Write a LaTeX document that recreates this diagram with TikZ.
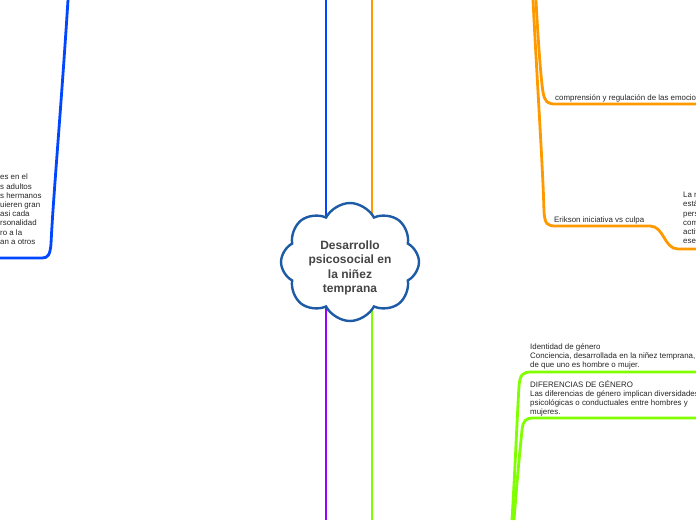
\documentclass[tikz,border=0pt]{standalone}
\usepackage{fontspec}
\setmainfont{Liberation Sans}
\usetikzlibrary{positioning, shapes.symbols}
\definecolor{azul}{HTML}{0047FF}
\definecolor{naranja}{HTML}{FF9900}
\definecolor{morado}{HTML}{9900FF}
\definecolor{verde}{HTML}{80FF00}
\definecolor{nube}{HTML}{1D5BA6}
\definecolor{tinta}{HTML}{444444}

\begin{document}
\begin{tikzpicture}[x=1pt, y=-1pt,
    rama/.style={line width=2.8pt},
    texto/.style={font=\fontsize{7.9}{9.2}\selectfont, align=left, inner sep=0pt, text=black!85},
    centro/.style={cloud, cloud puffs=8, cloud puff arc=125, aspect=1.2,
      shape border uses incircle, shape border rotate=22.5,
      draw=nube, line width=2.4pt,
      fill=white, text=tinta, align=center, inner sep=-6pt,
      minimum width=138pt, minimum height=118pt,
      font=\bfseries\fontsize{12}{14.4}\selectfont}]
  \useasboundingbox (0,0) rectangle (696,520);
  \clip (0,0) rectangle (696,520);

  % ramas principales
  \coordinate (c) at (350,262);
  \coordinate (azulA) at (326,0);
  \coordinate (naranjaA) at (372,0);
  \coordinate (moradoA) at (326,520);
  \coordinate (verdeA) at (372,520);
  \draw[rama, azul] (azulA) -- (azulA |- c);
  \draw[rama, naranja] (naranjaA) -- (naranjaA |- c);
  \draw[rama, morado] (moradoA) -- (moradoA |- c);
  \draw[rama, verde] (verdeA) -- (verdeA |- c);

  \node[centro] (raiz) at (c) {\mbox{}\\[6pt]Desarrollo\\psicosocial en\\la niñez\\temprana};

  % rama azul (izquierda)
  \coordinate (azulB) at (68,0);
  \coordinate (azulC) at (0,258);
  \draw[rama, azul] (azulB) .. controls (61,110) and (53,200) .. (51,244)
    .. controls (50,255) and (48,258) .. (42,258) -- (azulC);
  \node[texto, anchor=north west] (familia) at (0,174)
    {es en el\\s adultos\\s hermanos\\uieren gran\\asi cada\\rsonalidad\\ro a la\\an a otros};

  % ramas naranjas (derecha arriba)
  \coordinate (naranjaB) at (536,0);
  \coordinate (naranjaC) at (696,104);
  \draw[rama, naranja] (naranjaB) .. controls (538,40) and (541,80) .. (543,92)
    .. controls (545,102) and (547,104) .. (556,104) -- (naranjaC);
  \node[texto, anchor=base west] (emociones) at (555,100) {comprensión y regulación de las emocio};

  \coordinate (naranjaD) at (533,0);
  \coordinate (naranjaE) at (696,249);
  \draw[rama, naranja] (naranjaD) .. controls (537,80) and (543,170) .. (544,212)
    .. controls (545,224) and (547,226) .. (556,226) -- (650,226)
    .. controls (664,226) and (664,249) .. (678,249) -- (naranjaE);
  \node[texto, anchor=base west] (erikson) at (554,222) {Erikson iniciativa vs culpa};
  \node[texto, anchor=north west] (iniciativa) at (683,192) {La r\\está\\pers\\com\\activ\\ese};

  % ramas verdes (derecha abajo)
  \coordinate (verdeB) at (512,520);
  \coordinate (verdeC) at (696,372);
  \coordinate (verdeD) at (514,520);
  \coordinate (verdeE) at (696,418);
  \draw[rama, verde] (verdeB) .. controls (515,470) and (517,420) .. (519,386)
    .. controls (520,374) and (523,372) .. (532,372) -- (verdeC);
  \draw[rama, verde] (verdeD) .. controls (517,480) and (520,450) .. (522,430)
    .. controls (523,420) and (526,418) .. (534,418) -- (verdeE);
  \node[texto, anchor=north west] (identidad) at (530,343)
    {Identidad de género\\Conciencia, desarrollada en la niñez temprana,\\de que uno es hombre o mujer.};
  \node[texto, anchor=north west] (diferencias) at (530,380)
    {DIFERENCIAS DE GÉNERO\\Las diferencias de género implican diversidades\\psicológicas o conductuales entre hombres y\\mujeres.};
\end{tikzpicture}
\end{document}
